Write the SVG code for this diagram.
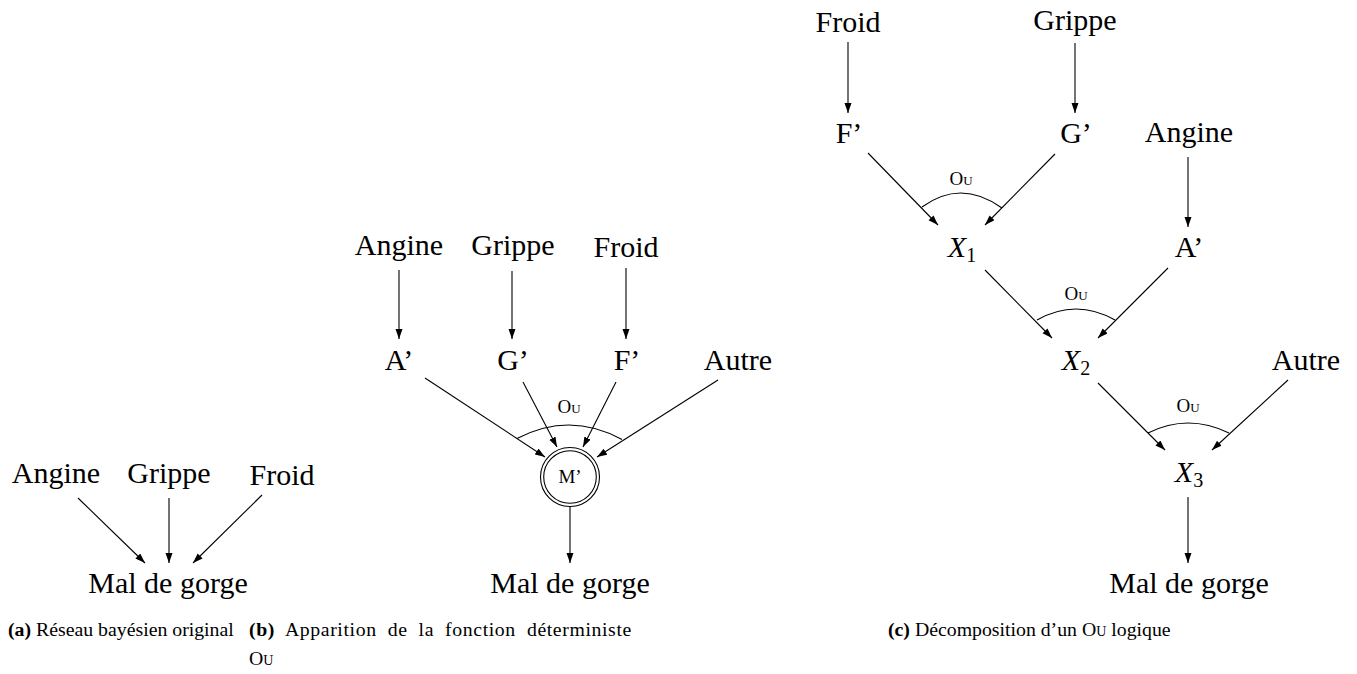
<svg xmlns="http://www.w3.org/2000/svg" width="1357" height="674" viewBox="0 0 1357 674">
<defs>
<marker id="ah" markerUnits="userSpaceOnUse" markerWidth="11" markerHeight="8" refX="10" refY="3.5" orient="auto">
<path d="M0,0 L10,3.5 L0,7 z" fill="#000"/>
</marker>
<style>
.n{font-family:"Liberation Serif",serif;font-size:30px;fill:#000;text-anchor:middle}
.ou{font-family:"Liberation Serif",serif;font-size:19px;font-variant:small-caps;fill:#000;text-anchor:middle}
.cap{font-family:"Liberation Serif",serif;font-size:19.8px;fill:#000}
.e{stroke:#000;stroke-width:1.1;fill:none;marker-end:url(#ah)}
.arc{stroke:#000;stroke-width:1.1;fill:none}
</style>
</defs>
<rect width="1357" height="674" fill="#fff"/>

<g id="connectors">
<line class="e" x1="78" y1="498" x2="145" y2="563"/>
<line class="e" x1="169" y1="498" x2="169" y2="563"/>
<line class="e" x1="262" y1="495" x2="193" y2="563"/>

<line class="e" x1="399" y1="270" x2="399" y2="339"/>
<line class="e" x1="512" y1="271" x2="512" y2="339"/>
<line class="e" x1="626" y1="268" x2="626" y2="339"/>
<line class="e" x1="425" y1="378" x2="545" y2="457"/>
<line class="e" x1="523" y1="382" x2="557" y2="447"/>
<line class="e" x1="616" y1="382" x2="583" y2="447"/>
<line class="e" x1="718" y1="380" x2="597" y2="457"/>
<line class="e" x1="570" y1="507" x2="570" y2="563"/>
<path class="arc" d="M517,438.5 Q570,411 622,439.5"/>

<line class="e" x1="848" y1="42" x2="848" y2="113"/>
<line class="e" x1="1075" y1="43" x2="1075" y2="113"/>
<line class="e" x1="1188" y1="157" x2="1188" y2="227"/>
<line class="e" x1="868" y1="153" x2="938" y2="225"/>
<line class="e" x1="1055" y1="154" x2="985" y2="225"/>
<line class="e" x1="985" y1="270" x2="1052" y2="338"/>
<line class="e" x1="1168" y1="268" x2="1098" y2="338"/>
<line class="e" x1="1098" y1="383" x2="1165" y2="450"/>
<line class="e" x1="1288" y1="380" x2="1212" y2="450"/>
<line class="e" x1="1188" y1="497" x2="1188" y2="563"/>
<path class="arc" d="M922,207 Q961,178.5 1002,208"/>
<path class="arc" d="M1037,320 Q1076,298 1115,320"/>
<path class="arc" d="M1148,433 Q1188,413 1229,433"/>
</g>

<g id="a-angine"><text class="n" x="56" y="483">Angine</text></g>
<g id="a-grippe"><text class="n" x="169" y="483">Grippe</text></g>
<g id="a-froid"><text class="n" x="282" y="485">Froid</text></g>
<g id="a-mal"><text class="n" x="168" y="593">Mal de gorge</text></g>

<g id="b-angine"><text class="n" x="399" y="255">Angine</text></g>
<g id="b-grippe"><text class="n" x="513" y="255">Grippe</text></g>
<g id="b-froid"><text class="n" x="626" y="257">Froid</text></g>
<g id="b-a"><text class="n" x="399" y="370">A’</text></g>
<g id="b-g"><text class="n" x="513" y="370">G’</text></g>
<g id="b-f"><text class="n" x="627" y="370">F’</text></g>
<g id="b-autre"><text class="n" x="738" y="370">Autre</text></g>
<g id="b-m">
<circle cx="570" cy="477" r="29.5" fill="none" stroke="#000" stroke-width="1.1"/>
<circle cx="570" cy="477" r="26.3" fill="none" stroke="#000" stroke-width="1.1"/>
<text class="n" x="570" y="483" style="font-size:19px">M’</text>
</g>
<g id="b-ou"><text class="ou" x="569" y="413">Ou</text></g>
<g id="b-mal"><text class="n" x="570" y="593">Mal de gorge</text></g>

<g id="c-froid"><text class="n" x="848" y="32">Froid</text></g>
<g id="c-grippe"><text class="n" x="1075" y="30">Grippe</text></g>
<g id="c-f"><text class="n" x="849" y="143">F’</text></g>
<g id="c-g"><text class="n" x="1076" y="143">G’</text></g>
<g id="c-angine"><text class="n" x="1189" y="142">Angine</text></g>
<g id="c-x1"><text class="n" x="962" y="257"><tspan font-style="italic">X</tspan><tspan font-size="20" dy="5">1</tspan></text></g>
<g id="c-a"><text class="n" x="1189" y="257">A’</text></g>
<g id="c-ou1"><text class="ou" x="961" y="185">Ou</text></g>
<g id="c-x2"><text class="n" x="1076" y="370"><tspan font-style="italic">X</tspan><tspan font-size="20" dy="5">2</tspan></text></g>
<g id="c-ou2"><text class="ou" x="1076" y="300">Ou</text></g>
<g id="c-autre"><text class="n" x="1306" y="370">Autre</text></g>
<g id="c-x3"><text class="n" x="1189" y="482"><tspan font-style="italic">X</tspan><tspan font-size="20" dy="5">3</tspan></text></g>
<g id="c-ou3"><text class="ou" x="1188" y="412">Ou</text></g>
<g id="c-mal"><text class="n" x="1189" y="593">Mal de gorge</text></g>

<g id="captions">
<text class="cap" x="8" y="636"><tspan font-weight="bold">(a)</tspan> Réseau bayésien original</text>
<text class="cap" x="249" y="636" letter-spacing="0.6" word-spacing="5.5"><tspan font-weight="bold">(b)</tspan> Apparition de la fonction déterministe</text>
<text class="cap" x="249" y="665" style="font-variant:small-caps">Ou</text>
<text class="cap" x="888" y="636"><tspan font-weight="bold">(c)</tspan> Décomposition d’un <tspan style="font-variant:small-caps">Ou</tspan> logique</text>
</g>
</svg>
